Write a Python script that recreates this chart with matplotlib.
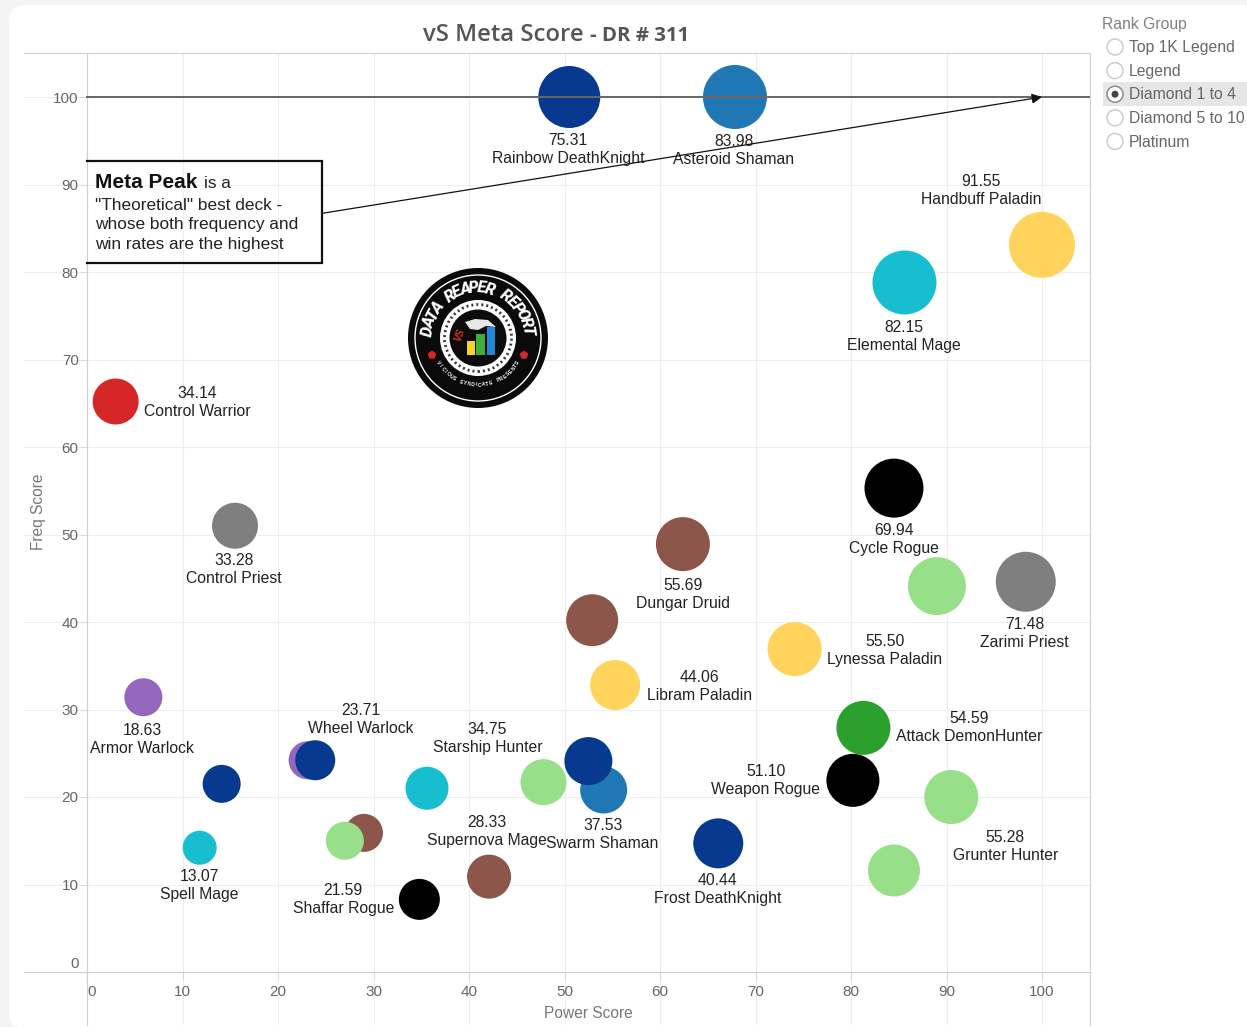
import numpy as np
import matplotlib
matplotlib.use('Agg')
import matplotlib.pyplot as plt
from matplotlib.patches import Circle, FancyBboxPatch, Polygon, Rectangle, RegularPolygon
from matplotlib.transforms import ScaledTranslation

plt.rcParams['font.family'] = ['Liberation Sans', 'DejaVu Sans']

# power score, freq score, bubble diameter (px), colour, name, meta score
NAVY, BLUE, TEAL, YELLOW = '#073a8e', '#1f77b4', '#17becf', '#ffd35c'
RED, GREY, BLACK, BROWN = '#d62728', '#7f7f7f', '#000000', '#8c564b'
LGREEN, GREEN, PURPLE = '#98df8a', '#2ca02c', '#9467bd'

power = [50.5, 67.85, 100, 85.6, 3.0, 15.5, 84.5, 62.4, 89, 98.3, 52.9, 74.1, 55.3, 5.9, 81.3,
         23.1, 23.9, 14.1, 35.6, 47.8, 54.1, 52.5, 80.2, 90.5, 29, 27, 11.8, 66.1, 84.5, 42.1, 34.8]
freq = [100, 100, 83.1, 78.8, 65.2, 51, 55.3, 48.9, 44.1, 44.6, 40.2, 36.9, 32.8, 31.4, 27.9,
        24.2, 24.2, 21.5, 21, 21.7, 20.8, 24.1, 21.9, 20, 15.9, 15, 14.2, 14.7, 11.6, 10.9, 8.3]
diameter = [62, 64, 66, 64, 46, 46, 59, 54, 58, 60, 52, 54, 50, 38, 54,
            38, 40, 38, 43, 46, 47, 48, 53, 54, 38, 38, 34, 50, 52, 44, 41]
colors = [NAVY, BLUE, YELLOW, TEAL, RED, GREY, BLACK, BROWN, LGREEN, GREY, BROWN, YELLOW, YELLOW, PURPLE, GREEN,
          PURPLE, NAVY, NAVY, TEAL, LGREEN, BLUE, NAVY, BLACK, LGREEN, BROWN, LGREEN, TEAL, NAVY, LGREEN, BROWN, BLACK]
names = ['Rainbow DeathKnight', 'Asteroid Shaman', 'Handbuff Paladin', 'Elemental Mage', 'Control Warrior',
         'Control Priest', 'Cycle Rogue', 'Dungar Druid', '', 'Zarimi Priest', '', 'Lynessa Paladin',
         'Libram Paladin', 'Armor Warlock', 'Attack DemonHunter', '', 'Wheel Warlock', '', 'Supernova Mage',
         'Starship Hunter', 'Swarm Shaman', '', 'Weapon Rogue', 'Grunter Hunter', '', '', 'Spell Mage',
         'Frost DeathKnight', '', '', 'Shaffar Rogue']
scores = ['75.31', '83.98', '91.55', '82.15', '34.14', '33.28', '69.94', '55.69', '', '71.48', '', '55.50',
          '44.06', '18.63', '54.59', '', '23.71', '', '28.33', '34.75', '37.53', '', '51.10', '55.28', '', '',
          '13.07', '40.44', '', '', '21.59']
# label offset from the bubble centre, px (y up)
label_dx = [-1, -1, -61, -1, 82, -1, 0, 0, 0, -1, 0, 90, 84, -1, 106, 0, 46, 0, 60, -56, -1, 0, -87, 54, 0, 0, 0, -1, 0, 0, -76]
label_dy = [-52, -53, 54, -54, -1, -44, -51, -50, 0, -52, 0, -1, -1, -42, 0, 0, 41, 0, -43, 44, -45, 0, 0, -49, 0, 0, -38, -46, 0, 0, 0]

rank_groups = ['Top 1K Legend', 'Legend', 'Diamond 1 to 4', 'Diamond 5 to 10', 'Platinum']
selected = 'Diamond 1 to 4'
x_ticks = list(range(0, 101, 10))
y_ticks = list(range(0, 101, 10))

W, H = 1247, 1027
fig = plt.figure(figsize=(W / 100, H / 100), dpi=100, facecolor='#f4f4f4')

# page card behind everything
bg = fig.add_axes([0, 0, 1, 1], zorder=0)
bg.set_xlim(0, W)
bg.set_ylim(H, 0)
bg.axis('off')
bg.add_patch(FancyBboxPatch((9, 5), W + 30, 1023, boxstyle='round,pad=0,rounding_size=16', fc='white', ec='none'))

# overlay in pixels: filter panel and title
ui = fig.add_axes([0, 0, 1, 1], zorder=2)
ui.set_xlim(0, W)
ui.set_ylim(H, 0)
ui.axis('off')

ui.text(1102, 24, 'Rank Group', fontsize=11.3, color='#808080', va='center')
for i, g in enumerate(rank_groups):
    y = 47 + i * 23.6
    if g == selected:
        ui.add_patch(Rectangle((1103, y - 12), 144, 24, fc='#e6e6e6', ec='none'))
    ui.add_patch(Circle((1115, y), 8, fc='white', ec='#c8c8c8', lw=1))
    if g == selected:
        ui.add_patch(Circle((1115, y), 8, fc='white', ec='#888888', lw=1))
        ui.add_patch(Circle((1115, y), 3.5, fc='#444444', ec='none'))
    ui.text(1129, y + 0.7, g, fontsize=11.3, color='#666666', va='center')

ui.text(423, 35, 'vS Meta Score', fontsize=17.2, family='Open Sans', fontweight='semibold', color='#555555', va='center')
ui.text(590, 36, '- DR # 311', fontsize=14.7, family='Open Sans', fontweight='bold', color='#555555', va='center')

# main plot: 9.55 px per power unit, 8.75 px per freq unit
ax = fig.add_axes([24 / W, 1 - 1025 / H, (1090 - 24) / W, (1025 - 53) / H], zorder=1)
ax.patch.set_alpha(0)
ax.set_xlim((24 - 87) / 9.55, (1090 - 87) / 9.55)
ax.set_ylim((972 - 1025) / 8.75, (972 - 53) / 8.75)
ax.set_axisbelow(True)
ax.grid(True, color='#eeeeee', lw=0.75)
ax.spines['left'].set_position(('data', 0))
ax.spines['bottom'].set_position(('data', 0))
for s in ['left', 'bottom', 'top', 'right']:
    ax.spines[s].set_color('#d0d0d0')
    ax.spines[s].set_linewidth(0.8)
ax.set_xticks(x_ticks)
ax.set_yticks(y_ticks)
ax.tick_params(axis='both', length=5, width=0.75, color='#d8d8d8', labelcolor='#666666', labelsize=11)
ax.tick_params(axis='x', pad=4)
ax.tick_params(axis='y', pad=1)
for lab in ax.get_xticklabels():
    if lab.get_text() == '0':
        lab.set_transform(lab.get_transform() + ScaledTranslation(5 / 100, 0, fig.dpi_scale_trans))
for lab in ax.get_yticklabels():
    if lab.get_text() == '0':
        lab.set_transform(lab.get_transform() + ScaledTranslation(0, 10 / 100, fig.dpi_scale_trans))

size = (np.array(diameter) * 0.72) ** 2
ax.scatter(power, freq, s=size, c=colors, linewidths=0, zorder=2, clip_on=False)

# meta peak line runs over the bubbles
ax.axhline(100, xmin=(0 - ax.get_xlim()[0]) / (ax.get_xlim()[1] - ax.get_xlim()[0]), color='#666666', lw=1.4, zorder=3)

for x, y, n, sc, dx, dy in zip(power, freq, names, scores, label_dx, label_dy):
    if n:
        ax.annotate(sc + '\n' + n, (x, y), xytext=(dx, dy), textcoords='offset pixels', ha='center',
                    va='center', fontsize=11.3, color='#222222', linespacing=1.25, zorder=4)

ax.set_xlabel('Power Score', fontsize=11.2, color='#777777')
ax.xaxis.set_label_coords((588 - 24) / (1090 - 24), (1025 - 1014) / (1025 - 53), transform=ax.transAxes)
ax.xaxis.label.set_va('center')
ax.set_ylabel('Freq Score', fontsize=11.2, color='#777777')
ax.yaxis.set_label_coords((39 - 24) / (1090 - 24), (1025 - 512) / (1025 - 53), transform=ax.transAxes)
ax.yaxis.label.set_va('center')

# callout box with arrow up to the meta peak
box_l, box_r, box_b, box_t = 0, 24.6, 81.0, 92.7
ax.plot([box_l, box_r, box_r, box_l], [box_t, box_t, box_b, box_b], color='#111111', lw=1.6, zorder=5,
        solid_joinstyle='miter')
ax.annotate('', xy=(100, 100), xytext=(box_r, 86.7),
            arrowprops=dict(arrowstyle='-|>', color='#111111', lw=0.9, shrinkA=0, shrinkB=0, mutation_scale=15), zorder=5)
ax.text(0.8, 90.2, 'Meta Peak', fontsize=15, fontweight='bold', color='#111111', va='center', zorder=6)
ax.text(12.2, 90.1, 'is a', fontsize=12.4, color='#222222', va='center', zorder=6)
ax.text(0.8, 85.4, '"Theoretical" best deck -\nwhose both frequency and\nwin rates are the highest',
        fontsize=12.4, color='#222222', va='center', linespacing=1.39, zorder=6)

# Data Reaper Report badge
logo = fig.add_axes([(478 - 72) / W, 1 - (338 + 72) / H, 144 / W, 144 / H], zorder=3)
logo.set_xlim(-72, 72)
logo.set_ylim(-72, 72)
logo.axis('off')
logo.add_patch(Circle((0, 0), 70, fc='#0a0a0a', ec='none'))
logo.add_patch(Circle((0, 0), 63, fc='none', ec='white', lw=1))
logo.add_patch(Circle((0, 0), 38, fc='white', ec='none'))
logo.add_patch(Circle((0, 0), 33.5, fc='none', ec='#333333', lw=2, ls=(0, (0.7, 1.1))))
logo.add_patch(Circle((0, 0), 28.5, fc='#0c0c0c', ec='none'))
logo.add_patch(Polygon([(-13, 16), (-3, 19), (10, 18), (18, 11), (8, 12), (0, 8), (-8, 9)], fc='#e8e8e8', ec='none'))
for bx, bw, bh, c in [(-11, 8, 14, '#f5d327'), (-2, 9, 21, '#3fae3f'), (9, 8, 28, '#1e88d8')]:
    logo.add_patch(Rectangle((bx, -17), bw, bh, fc=c, ec='none'))
logo.text(-18, 3, 'VS', fontsize=7, color='#d9302a', fontweight='bold', style='italic', rotation=70, ha='center', va='center')
for sx in (-46, 46):
    logo.add_patch(RegularPolygon((sx, -17), 5, radius=4.5, fc='#d62728', ec='none'))


def arc_text(s, radius, start, end, fontsize, bottom=False, **kw):
    # one rotated letter at a time round the badge
    for ch, a in zip(s, np.linspace(start, end, len(s))):
        rot = a + 90 if bottom else a - 90
        logo.text(radius * np.cos(np.radians(a)), radius * np.sin(np.radians(a)), ch, rotation=rot,
                  rotation_mode='anchor', ha='center', va='center', fontsize=fontsize, color='white', **kw)


arc_text('DATA REAPER REPORT', 50, 172, 8, 11.5, family='Roboto', fontweight='heavy', style='italic')
arc_text('VICIOUS SYNDICATE PRESENTS', 47, 212, 328, 3.6, bottom=True, fontweight='bold')

fig.savefig('out.png', dpi=100, facecolor=fig.get_facecolor())
